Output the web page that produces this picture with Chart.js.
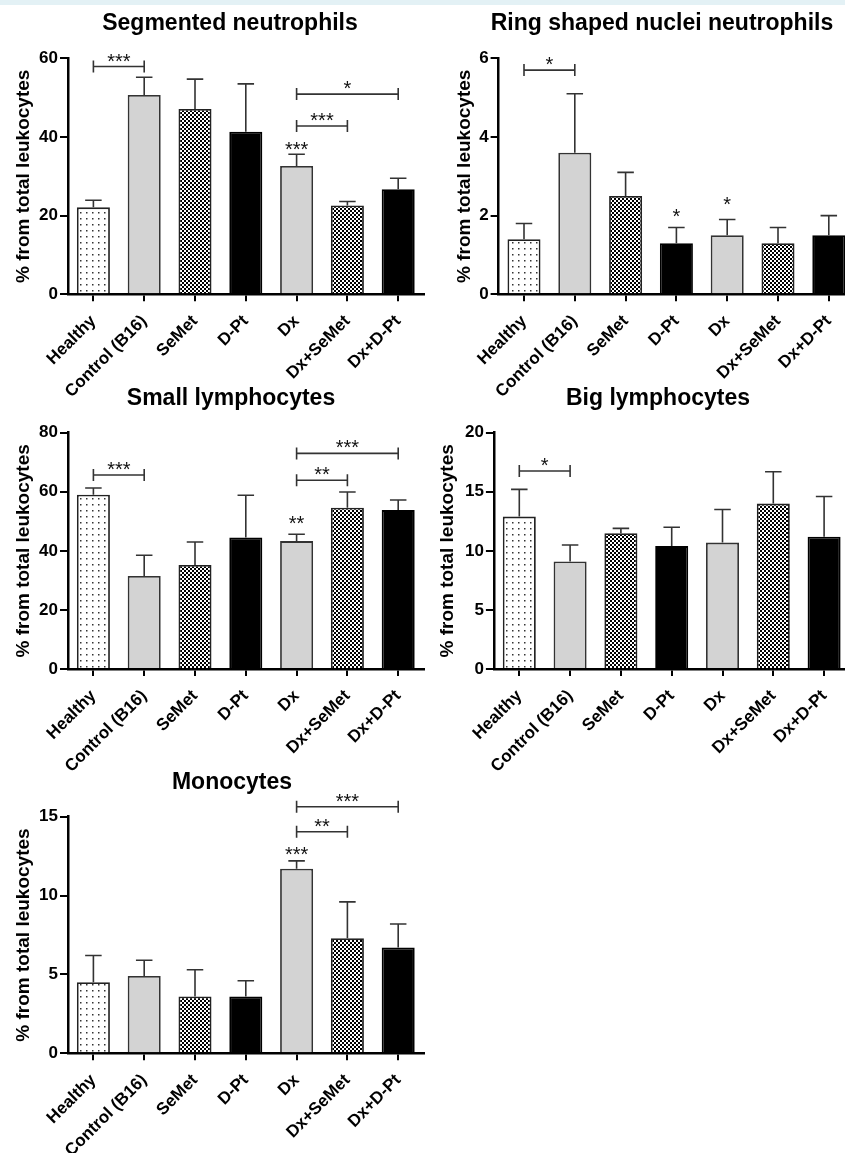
<!DOCTYPE html>
<html lang="en">
<head>
<meta charset="UTF-8">
<title>Leukocyte populations</title>
<script src="https://cdn.jsdelivr.net/npm/chart.js"></script>
<style>
  body { margin: 0; width: 845px; height: 1153px; overflow: hidden; background: #fff; position: relative; }
  .band { position: absolute; left: 0; top: 0; width: 845px; height: 5px; background: #e3f1f5; }
  canvas { position: absolute; }
</style>
</head>
<body>
<div class="band"></div>
<canvas id="c1" width="440" height="410" style="left:0px;top:0px"></canvas>
<canvas id="c2" width="440" height="410" style="left:420px;top:0px"></canvas>
<canvas id="c3" width="440" height="420" style="left:0px;top:370px"></canvas>
<canvas id="c4" width="440" height="420" style="left:420px;top:370px"></canvas>
<canvas id="c5" width="440" height="393" style="left:0px;top:760px"></canvas>
<script>
const groups = ['Healthy', 'Control (B16)', 'SeMet', 'D-Pt', 'Dx', 'Dx+SeMet', 'Dx+D-Pt'];

// Segmented neutrophils
const segMean = [22.1, 50.7, 47.1, 41.3, 32.6, 22.6, 26.7];
const segSd = [1.8, 4.5, 7.6, 12.2, 3.0, 1.0, 2.8];
const segTicks = [0, 20, 40, 60];
const segBrackets = [[0, 1, 57.9, '***'], [4, 5, 42.8, '***'], [4, 6, 50.9, '*']];
const segStars = [[4, 35.2, '***']];

// Ring shaped nuclei neutrophils
const ringMean = [1.4, 3.6, 2.5, 1.3, 1.5, 1.3, 1.5];
const ringSd = [0.4, 1.5, 0.6, 0.4, 0.4, 0.4, 0.5];
const ringTicks = [0, 2, 4, 6];
const ringBrackets = [[0, 1, 5.7, '*']];
const ringStars = [[3, 1.81, '*'], [4, 2.13, '*']];

// Small lymphocytes
const smallMean = [59.0, 31.5, 35.2, 44.5, 43.3, 54.6, 53.8];
const smallSd = [2.3, 7.0, 7.8, 14.3, 2.3, 5.3, 3.4];
const smallTicks = [0, 20, 40, 60, 80];
const smallBrackets = [[0, 1, 65.7, '***'], [4, 5, 63.9, '**'], [4, 6, 73.0, '***']];
const smallStars = [[4, 47.2, '**']];

// Big lymphocytes
const bigMean = [12.9, 9.1, 11.5, 10.4, 10.7, 14.0, 11.2];
const bigSd = [2.3, 1.4, 0.4, 1.6, 2.8, 2.7, 3.4];
const bigTicks = [0, 5, 10, 15, 20];
const bigBrackets = [[0, 1, 16.76, '*']];
const bigStars = [];

// Monocytes
const monoMean = [4.5, 4.9, 3.6, 3.6, 11.7, 7.3, 6.7];
const monoSd = [1.7, 1.0, 1.7, 1.0, 0.5, 2.3, 1.5];
const monoTicks = [0, 5, 10, 15];
const monoBrackets = [[4, 5, 14.05, '**'], [4, 6, 15.63, '***']];
const monoStars = [[4, 12.16, '***']];

const FONT = '"Liberation Sans", Arial, Helvetica, sans-serif';

function makePattern(size, draw) {
  const c = document.createElement('canvas');
  c.width = size; c.height = size;
  const g = c.getContext('2d');
  g.fillStyle = '#fff';
  g.fillRect(0, 0, size, size);
  draw(g);
  return document.createElement('canvas').getContext('2d').createPattern(c, 'repeat');
}

const dots = makePattern(6, g => { g.fillStyle = '#333'; g.fillRect(2, 2, 1.5, 1.5); });
const checks = makePattern(4, g => { g.fillStyle = '#000'; g.fillRect(0, 0, 2, 2); g.fillRect(2, 2, 2, 2); });

const fills = [dots, '#d3d3d3', checks, '#000', '#d3d3d3', checks, '#000'];
const edges = ['#222', '#333', '#222', '#000', '#333', '#222', '#000'];

const errorBars = {
  id: 'errorBars',
  afterDatasetsDraw(chart) {
    const ds = chart.data.datasets[0];
    const meta = chart.getDatasetMeta(0);
    const y = chart.scales.y;
    const ctx = chart.ctx;
    ctx.save();
    ctx.strokeStyle = '#333';
    ctx.lineWidth = 1.6;
    meta.data.forEach((bar, i) => {
      const top = y.getPixelForValue(ds.data[i] + ds.sd[i]);
      const half = bar.width / 4;
      ctx.beginPath();
      ctx.moveTo(bar.x, bar.y);
      ctx.lineTo(bar.x, top);
      ctx.moveTo(bar.x - half, top);
      ctx.lineTo(bar.x + half, top);
      ctx.stroke();
    });
    ctx.restore();
  }
};

const signif = {
  id: 'signif',
  afterDatasetsDraw(chart) {
    const ds = chart.data.datasets[0];
    const x = chart.scales.x, y = chart.scales.y, ctx = chart.ctx;
    ctx.save();
    ctx.strokeStyle = '#333';
    ctx.lineWidth = 1.6;
    ctx.fillStyle = '#111';
    ctx.font = '20px ' + FONT;
    ctx.textAlign = 'center';
    ctx.textBaseline = 'alphabetic';
    ds.brackets.forEach(([a, b, v, label]) => {
      const x1 = x.getPixelForValue(a), x2 = x.getPixelForValue(b), py = y.getPixelForValue(v);
      ctx.beginPath();
      ctx.moveTo(x1, py); ctx.lineTo(x2, py);
      ctx.moveTo(x1, py - 6); ctx.lineTo(x1, py + 6);
      ctx.moveTo(x2, py - 6); ctx.lineTo(x2, py + 6);
      ctx.stroke();
      ctx.fillText(label, (x1 + x2) / 2, py + 1);
    });
    ds.stars.forEach(([i, v, label]) => {
      ctx.fillText(label, x.getPixelForValue(i), y.getPixelForValue(v));
    });
    ctx.restore();
  }
};

const panelTitle = {
  id: 'panelTitle',
  afterDraw(chart, args, opts) {
    if (!opts.text) return;
    const ctx = chart.ctx;
    ctx.save();
    ctx.fillStyle = '#000';
    ctx.font = 'bold 23px ' + FONT;
    ctx.textAlign = 'center';
    ctx.textBaseline = 'alphabetic';
    ctx.fillText(opts.text, opts.x, opts.y);
    ctx.restore();
  }
};

Chart.register(errorBars, signif, panelTitle);

function makePanel(id, p) {
  return new Chart(document.getElementById(id), {
    type: 'bar',
    data: {
      labels: groups,
      datasets: [{
        data: p.mean, sd: p.sd, brackets: p.brackets, stars: p.stars,
        backgroundColor: fills, borderColor: edges, borderWidth: 1.8,
        barPercentage: 0.65, categoryPercentage: 1
      }]
    },
    options: {
      responsive: false,
      animation: false,
      events: [],
      layout: { padding: { top: p.top, left: p.padLeft, right: p.padRight, bottom: 0 } },
      plugins: {
        legend: { display: false },
        tooltip: { enabled: false },
        panelTitle: { text: p.title, x: p.titleX, y: p.titleY }
      },
      scales: {
        x: {
          grid: { offset: false, drawOnChartArea: false, tickLength: 7, color: '#000', lineWidth: 2 },
          border: { display: true, color: '#000', width: 2.5 },
          ticks: { autoSkip: false, minRotation: 45, maxRotation: 45, padding: 10, color: '#000',
                   font: { family: FONT, size: 17, weight: 'bold' } },
          afterFit: s => { s.height = p.xHeight; }
        },
        y: {
          min: p.ticks[0],
          max: p.ticks[p.ticks.length - 1],
          grid: { drawOnChartArea: false, tickLength: 8, color: '#000', lineWidth: 2 },
          border: { display: true, color: '#000', width: 2.5 },
          ticks: { stepSize: p.ticks[1] - p.ticks[0], padding: 2, color: '#000',
                   font: { family: FONT, size: 17, weight: 'bold' } },
          title: { display: true, text: '% from total leukocytes', color: '#000', padding: { top: 4, bottom: 4 },
                   font: { family: FONT, size: 19, weight: 'bold' } },
          afterFit: s => { s.width = p.yWidth; }
        }
      }
    }
  });
}

makePanel('c1', { title: 'Segmented neutrophils', titleX: 230, titleY: 29.5,
  mean: segMean, sd: segSd, ticks: segTicks, brackets: segBrackets, stars: segStars,
  top: 58.3, padLeft: 8.6, yWidth: 59.4, padRight: 16.4, xHeight: 115.7 });

makePanel('c2', { title: 'Ring shaped nuclei neutrophils', titleX: 242, titleY: 29.5,
  mean: ringMean, sd: ringSd, ticks: ringTicks, brackets: ringBrackets, stars: ringStars,
  top: 58.3, padLeft: 29.6, yWidth: 49, padRight: 5.8, xHeight: 115.7 });

makePanel('c3', { title: 'Small lymphocytes', titleX: 231, titleY: 35,
  mean: smallMean, sd: smallSd, ticks: smallTicks, brackets: smallBrackets, stars: smallStars,
  top: 62.7, padLeft: 8.6, yWidth: 59.4, padRight: 16.4, xHeight: 121 });

makePanel('c4', { title: 'Big lymphocytes', titleX: 238, titleY: 35,
  mean: bigMean, sd: bigSd, ticks: bigTicks, brackets: bigBrackets, stars: bigStars,
  top: 62.7, padLeft: 12.1, yWidth: 61.8, padRight: 10.5, xHeight: 121 });

makePanel('c5', { title: 'Monocytes', titleX: 232, titleY: 29.3,
  mean: monoMean, sd: monoSd, ticks: monoTicks, brackets: monoBrackets, stars: monoStars,
  top: 56.7, padLeft: 8.6, yWidth: 59.4, padRight: 16.4, xHeight: 99.7 });
</script>
</body>
</html>
